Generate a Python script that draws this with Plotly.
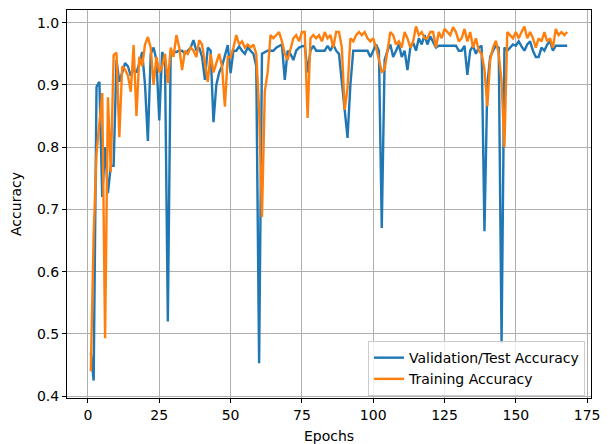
import plotly.graph_objects as go

# Per-epoch accuracy history
epochs = list(range(1, 169))

val_acc = [
    0.470, 0.425, 0.897, 0.905, 0.720, 0.800, 0.726, 0.770, 0.770, 0.940,
    0.905, 0.920, 0.935, 0.930, 0.915, 0.925, 0.920, 0.935, 0.953, 0.900,
    0.810, 0.950, 0.960, 0.940, 0.843, 0.953, 0.940, 0.520, 0.953, 0.953,
    0.953, 0.955, 0.955, 0.950, 0.955, 0.960, 0.972, 0.955, 0.960, 0.945,
    0.908, 0.960, 0.955, 0.840, 0.900, 0.920, 0.930, 0.945, 0.964, 0.919,
    0.955, 0.955, 0.962, 0.955, 0.950, 0.960, 0.955, 0.950, 0.930, 0.453,
    0.950, 0.953, 0.955, 0.955, 0.955, 0.960, 0.962, 0.965, 0.908, 0.955,
    0.950, 0.940, 0.955, 0.960, 0.962, 0.963, 0.920, 0.955, 0.963, 0.955,
    0.955, 0.955, 0.955, 0.963, 0.955, 0.965, 0.955, 0.950, 0.900, 0.860,
    0.815, 0.900, 0.955, 0.955, 0.955, 0.955, 0.955, 0.955, 0.945, 0.955,
    0.965, 0.955, 0.670, 0.940, 0.955, 0.965, 0.945, 0.955, 0.965, 0.945,
    0.955, 0.924, 0.960, 0.968, 0.955, 0.975, 0.965, 0.980, 0.965, 0.978,
    0.970, 0.960, 0.963, 0.963, 0.963, 0.963, 0.963, 0.963, 0.963, 0.955,
    0.955, 0.963, 0.916, 0.955, 0.963, 0.950, 0.960, 0.963, 0.665, 0.900,
    0.945, 0.955, 0.963, 0.960, 0.485, 0.960, 0.955, 0.960, 0.965, 0.963,
    0.970, 0.962, 0.955, 0.965, 0.970, 0.955, 0.945, 0.945, 0.960, 0.955,
    0.965, 0.970, 0.955, 0.963, 0.963, 0.963, 0.963, 0.963,
]

train_acc = [
    0.440, 0.660, 0.790, 0.840, 0.887, 0.493, 0.880, 0.760, 0.948, 0.952,
    0.816, 0.930, 0.925, 0.915, 0.889, 0.964, 0.850, 0.945, 0.930, 0.965,
    0.977, 0.960, 0.900, 0.945, 0.920, 0.930, 0.950, 0.903, 0.960, 0.945,
    0.980, 0.960, 0.924, 0.955, 0.950, 0.960, 0.955, 0.945, 0.972, 0.965,
    0.935, 0.905, 0.950, 0.920, 0.935, 0.950, 0.930, 0.865, 0.945, 0.945,
    0.960, 0.980, 0.965, 0.970, 0.960, 0.965, 0.960, 0.965, 0.950, 0.860,
    0.688, 0.890, 0.920, 0.980, 0.975, 0.980, 0.985, 0.970, 0.950, 0.940,
    0.960, 0.975, 0.980, 0.970, 0.985, 0.985, 0.847, 0.975, 0.980, 0.975,
    0.980, 0.970, 0.985, 0.975, 0.980, 0.960, 0.985, 0.985, 0.960, 0.860,
    0.895, 0.975, 0.970, 0.980, 0.985, 0.980, 0.985, 0.975, 0.970, 0.975,
    0.960, 0.940, 0.921, 0.925, 0.955, 0.985, 0.980, 0.965, 0.970, 0.960,
    0.985, 0.975, 0.960, 0.970, 0.994, 0.980, 0.985, 0.975, 0.975, 0.985,
    0.985, 0.960, 0.985, 0.975, 0.990, 0.985, 0.980, 0.993, 0.985, 0.970,
    0.975, 0.990, 0.970, 0.985, 0.960, 0.975, 0.955, 0.950, 0.925, 0.866,
    0.940, 0.960, 0.971, 0.950, 0.905, 0.800, 0.985, 0.980, 0.975, 0.985,
    0.975, 0.985, 0.994, 0.975, 0.985, 0.975, 0.960, 0.975, 0.970, 0.985,
    0.970, 0.975, 0.960, 0.990, 0.980, 0.985, 0.980, 0.985,
]

x_ticks = [0, 25, 50, 75, 100, 125, 150, 175]
y_ticks = [0.4, 0.5, 0.6, 0.7, 0.8, 0.9, 1.0]
y_tick_text = ["0.4", "0.5", "0.6", "0.7", "0.8", "0.9", "1.0"]

FONT = "DejaVu Sans, Liberation Sans, sans-serif"
FS = 14

fig = go.Figure()
fig.add_trace(go.Scatter(
    x=epochs, y=val_acc, mode="lines", name="Validation/Test Accuracy",
    line=dict(color="#1f77b4", width=2.4),
))
fig.add_trace(go.Scatter(
    x=epochs, y=train_acc, mode="lines", name="Training Accuracy",
    line=dict(color="#ff7f0e", width=2.4),
))

axis_common = dict(
    showline=True, linecolor="black", linewidth=1, mirror=True,
    ticks="outside", ticklen=4, tickwidth=1, tickcolor="black",
    showgrid=True, gridcolor="#b0b0b0", gridwidth=1,
    zeroline=False, automargin=False,
    tickfont=dict(family=FONT, size=FS, color="black"),
)

fig.update_layout(
    width=608, height=444,
    margin=dict(l=67, r=17, t=10, b=46),
    paper_bgcolor="white", plot_bgcolor="white",
    font=dict(family=FONT, size=FS, color="black"),
    showlegend=True,
    legend=dict(
        x=0.9885, y=0.005, xanchor="right", yanchor="bottom",
        bgcolor="rgba(255,255,255,0.8)", bordercolor="#cccccc", borderwidth=1,
        font=dict(family=FONT, size=FS, color="black"),
        tracegroupgap=0, itemwidth=30,
    ),
    xaxis=dict(
        range=[-7.35, 176.35], tickvals=x_ticks,
        title=dict(text="Epochs", font=dict(family=FONT, size=FS), standoff=12),
        **axis_common,
    ),
    yaxis=dict(
        range=[0.397, 1.0204], tickvals=y_ticks, ticktext=y_tick_text,
        title=dict(text="Accuracy", font=dict(family=FONT, size=FS), standoff=12),
        **axis_common,
    ),
)

fig.write_html("out.html")
